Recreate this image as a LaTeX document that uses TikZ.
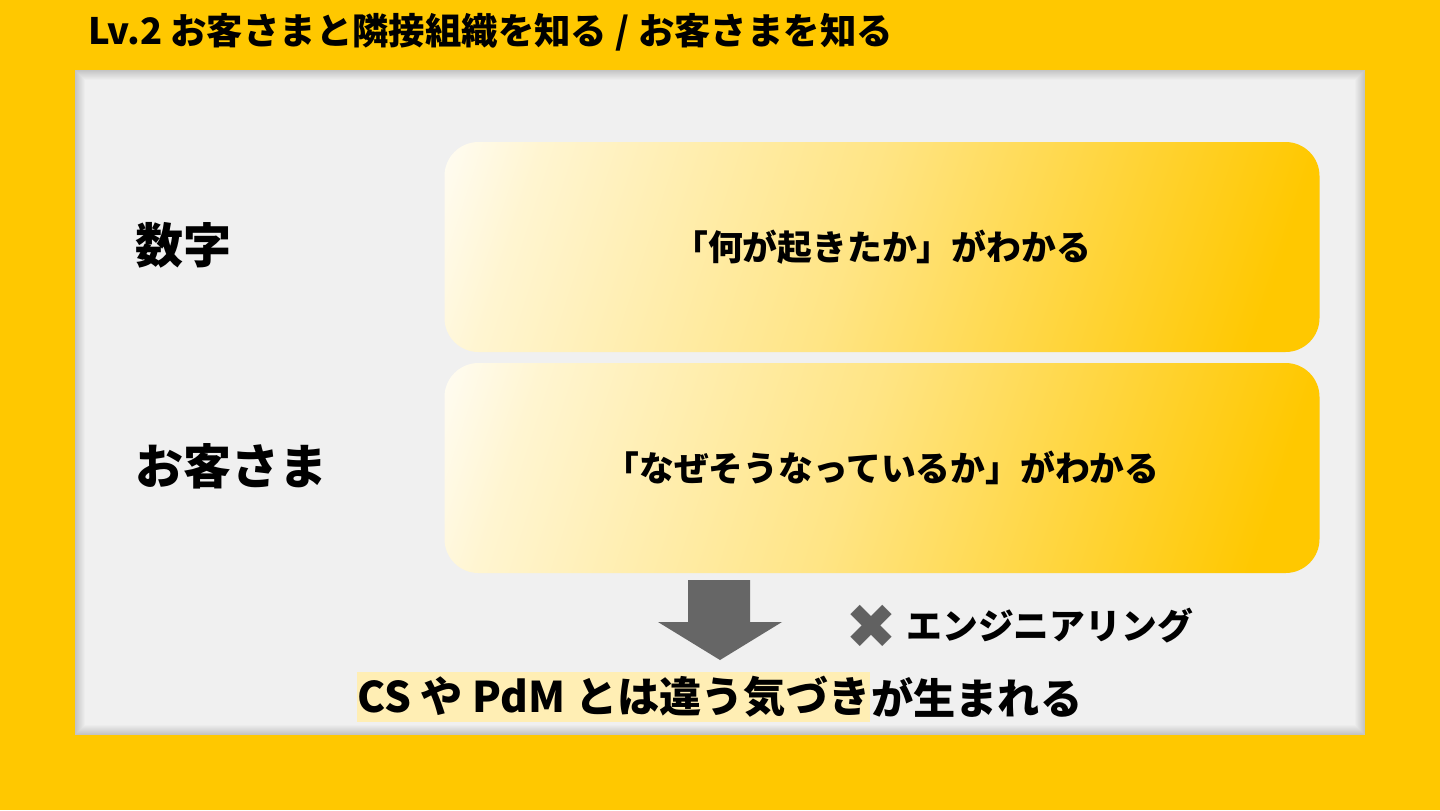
\documentclass[tikz,border=0pt]{standalone}
\usepackage{fontspec}
\setmainfont{Noto Sans CJK JP}
\newfontfamily\symfont{DejaVu Sans}
\usepackage{tikz}
\usetikzlibrary{positioning}

\definecolor{bgyellow}{RGB}{255,200,0}
\definecolor{panelgray}{RGB}{240,240,240}
\definecolor{shadowgray}{RGB}{196,196,196}
\definecolor{arrowgray}{RGB}{102,102,102}
\definecolor{markyellow}{RGB}{255,238,180}

% white in the upper left corner, full yellow on the right
\pgfdeclarehorizontalshading{boxshade}{100bp}{color(0bp)=(white); color(16bp)=(white);
    color(25bp)=(bgyellow!18!white); color(48bp)=(bgyellow!48!white);
    color(77bp)=(bgyellow); color(100bp)=(bgyellow)}

\begin{document}
\begin{tikzpicture}[x=0.5pt, y=-0.5pt,
        rowlabel/.style={anchor=west, inner sep=0pt, font=\bfseries\fontsize{24}{28}\selectfont},
        infobox/.style={rounded corners=17pt, minimum width=437.5pt, minimum height=105pt,
            shading=boxshade, shading angle=-18, font=\bfseries\fontsize{17.4}{20}\selectfont},
        plain/.style={inner sep=0pt, font=\bfseries\fontsize{21.1}{25}\selectfont}]
    \useasboundingbox (0,0) rectangle (1440,810);
    \fill[bgyellow] (0,0) rectangle (1440,810);
    % title
    \node[anchor=west, inner sep=0pt, font=\bfseries\fontsize{18.2}{21}\selectfont] (title) at (88,32)
        {Lv.2 お客さまと隣接組織を知る / お客さまを知る};
    % gray panel with inner shadow
    \fill[panelgray] (75,70) rectangle (1365,735);
    \foreach \i [evaluate=\i as \p using int(10*\i)] in {0,...,10}
        \draw[line width=0.5pt, panelgray!\p!shadowgray] (75.5+\i,70.5+\i) rectangle (1364.5-\i,734.5-\i);
    % rows
    \node[rowlabel] (numbers) at (135,245) {数字};
    \node[rowlabel] (customer) at (135,466) {お客さま};
    \node[infobox] (what) at (882,247) {「何が起きたか」がわかる};
    \node[infobox] (why) at (882,468) {「なぜそうなっているか」がわかる};
    % down arrow
    \fill[arrowgray] (688,580) -- (750,580) -- (750,622) -- (782,622) -- (720,660)
        -- (658,622) -- (688,622) -- cycle;
    \node[text=arrowgray!95!black, inner sep=0pt, font=\symfont\fontsize{31}{34}\selectfont] (cross) at (871,627) {✖};
    \node[anchor=west, inner sep=0pt, font=\bfseries\fontsize{17.9}{21}\selectfont] (eng) at (906,626) {エンジニアリング};
    % conclusion
    \node[plain, fill=markyellow, anchor=west, minimum height=25pt] (insight) at (357,697) {CS や PdM とは違う気づき};
    \node[plain, right=0pt of insight] (born) {が生まれる};
\end{tikzpicture}
\end{document}
